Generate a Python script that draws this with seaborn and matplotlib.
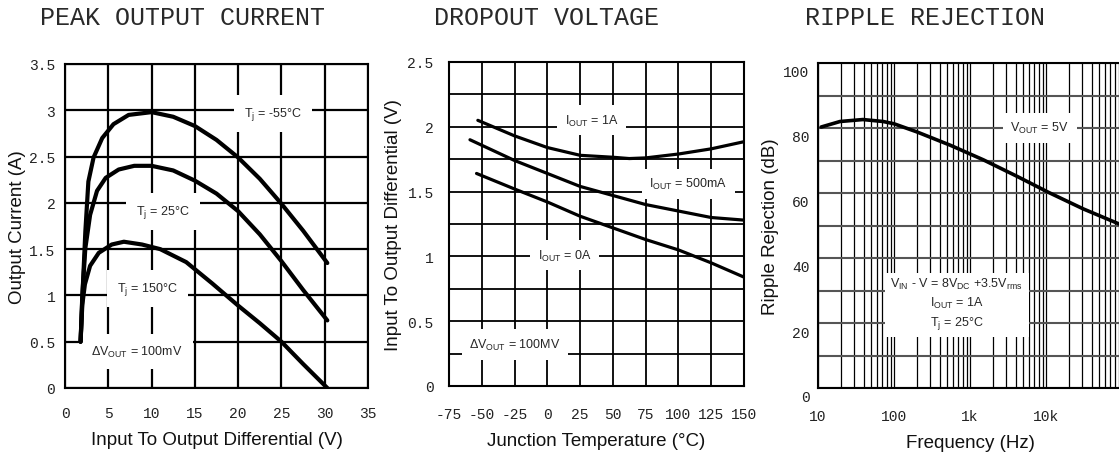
import numpy as np
import pandas as pd
import seaborn as sns
import matplotlib.pyplot as plt
from matplotlib import ticker
import matplotlib.transforms as mtransforms

# peak output current (A) vs input-output differential (V)
vin_m55 = [1.8, 2.0, 2.35, 2.7, 3.3, 4.3, 5.6, 7.35, 10, 12.5, 15, 17.5, 20, 22.5, 25, 27.5, 30.3]
iout_m55 = [0.5, 0.97, 1.69, 2.23, 2.49, 2.7, 2.85, 2.95, 2.98, 2.93, 2.83, 2.68, 2.49, 2.26, 1.99, 1.7, 1.35]
vin_25 = [1.8, 2.0, 2.35, 2.9, 3.7, 4.7, 6.2, 8, 10, 12.5, 15, 17.5, 20, 22.5, 25, 27.5, 30.3]
iout_25 = [0.5, 1.0, 1.51, 1.87, 2.13, 2.27, 2.36, 2.4, 2.4, 2.35, 2.24, 2.1, 1.91, 1.66, 1.37, 1.06, 0.73]
vin_150 = [1.8, 2.0, 2.3, 2.9, 3.9, 5.4, 6.8, 8.9, 11, 14, 17, 20, 22.5, 25, 27.5, 30.3]
iout_150 = [0.5, 0.9, 1.12, 1.32, 1.46, 1.55, 1.58, 1.55, 1.5, 1.36, 1.13, 0.89, 0.7, 0.5, 0.26, 0.0]

# dropout voltage (V) vs junction temperature (C)
temp_1a = [-53, -25, 0, 25, 50, 62.5, 75, 100, 125, 150]
drop_1a = [2.05, 1.93, 1.84, 1.78, 1.765, 1.755, 1.76, 1.79, 1.83, 1.885]
temp_500ma = [-59, -25, 0, 25, 50, 75, 100, 125, 150]
drop_500ma = [1.90, 1.74, 1.64, 1.54, 1.47, 1.40, 1.35, 1.30, 1.28]
temp_0a = [-54, -25, 0, 25, 50, 75, 100, 125, 150]
drop_0a = [1.64, 1.52, 1.42, 1.31, 1.22, 1.13, 1.05, 0.95, 0.84]

# ripple rejection (dB) vs frequency (Hz)
freq = [11, 19.5, 39, 72, 100, 200, 550, 1500, 4100, 11000, 31000, 91000]
rej_db = [80.3, 82.0, 82.6, 82.0, 81.3, 78.8, 74.7, 70.2, 65.2, 60.1, 55.1, 50.5]

x1_ticks = [0, 5, 10, 15, 20, 25, 30, 35]
y1_ticks = [0, 0.5, 1, 1.5, 2, 2.5, 3, 3.5]
x2_ticks = [-75, -50, -25, 0, 25, 50, 75, 100, 125, 150]
y2_ticks = [0, 0.5, 1, 1.5, 2, 2.5]
x3_ticks = [10, 100, 1000, 10000]
x3_labels = ['10', '100', '1k', '10k']
y3_ticks = [0, 20, 40, 60, 80, 100]

sns.set_style('white')
plt.rcParams['font.family'] = ['Liberation Sans', 'DejaVu Sans']
plt.rcParams['mathtext.fontset'] = 'custom'
plt.rcParams['mathtext.rm'] = 'Liberation Sans'
plt.rcParams['mathtext.it'] = 'Liberation Sans'
plt.rcParams['mathtext.default'] = 'regular'

fig = plt.figure(figsize=(11.19, 4.56), dpi=100)
W, H = 1119, 456


def make_ax(l, r, t, b):
    return fig.add_axes([l / W, 1 - b / H, (r - l) / W, (b - t) / H])


ax1 = make_ax(65, 368, 65, 389)
ax2 = make_ax(449, 744, 63, 387)
ax3 = make_ax(818, 1122, 64, 389)

mono = dict(family='Liberation Mono', size=10.5, color='#222222')
note = dict(fontsize=9, ha='center', va='center', zorder=3)
lab_kw = dict(fontsize=13.5, color='#111111')

# panel 1
for xs, ys in [(vin_m55, iout_m55), (vin_25, iout_25), (vin_150, iout_150)]:
    sns.lineplot(x=xs, y=ys, ax=ax1, color='black', lw=3, sort=False, zorder=4)
ax1.set_xlim(0, 35)
ax1.set_ylim(0, 3.5)
ax1.set_xticks(x1_ticks)
ax1.set_yticks(y1_ticks)
ax1.set_xticklabels([str(v) for v in x1_ticks], **mono)
ax1.set_yticklabels([f'{v:g}' for v in y1_ticks], **mono)
ax1.tick_params(length=0, axis='x', pad=13)
ax1.tick_params(length=0, axis='y', pad=7)
ax1.grid(True, color='black', lw=1.6)
ax1.set_xlabel('Input To Output Differential (V)', labelpad=8, **lab_kw)
ax1.set_ylabel('Output Current (A)', labelpad=2, **lab_kw)
box1 = dict(boxstyle='square,pad=0.8', fc='white', ec='none')
ax1.text(24, 2.96, 'T$_j$ = -55°C', bbox=box1, **note)
ax1.text(11.3, 1.91, 'T$_j$ = 25°C', bbox=box1, **note)
ax1.text(9.5, 1.08, 'T$_j$ = 150°C', bbox=box1, **note)
ax1.text(8.3, 0.39, 'ΔV$_{OUT}$ = 100mV', bbox=box1, **note)

# panel 2
for xs, ys in [(temp_1a, drop_1a), (temp_500ma, drop_500ma), (temp_0a, drop_0a)]:
    sns.lineplot(x=xs, y=ys, ax=ax2, color='black', lw=2.3, sort=False, zorder=4)
ax2.set_xlim(-75, 150)
ax2.set_ylim(0, 2.5)
ax2.set_xticks(x2_ticks)
ax2.set_yticks(y2_ticks)
ax2.yaxis.set_minor_locator(ticker.MultipleLocator(0.25))
ax2.set_xticklabels([str(v) for v in x2_ticks], **mono)
ax2.set_yticklabels([f'{v:g}' for v in y2_ticks], **mono)
ax2.tick_params(length=0, which='both', axis='x', pad=15)
ax2.tick_params(length=0, which='both', axis='y', pad=11)
ax2.grid(True, which='both', color='black', lw=1.3)
ax2.set_xlabel('Junction Temperature (°C)', labelpad=8, **lab_kw)
ax2.set_ylabel('Input To Output Differential (V)', labelpad=4, **lab_kw)
box2 = dict(boxstyle='square,pad=0.6', fc='white', ec='none')
ax2.text(33.8, 2.05, 'I$_{OUT}$ = 1A', bbox=box2, **note)
ax2.text(107.4, 1.56, 'I$_{OUT}$ = 500mA', bbox=box2, **note)
ax2.text(13.4, 1.01, 'I$_{OUT}$ = 0A', bbox=box2, **note)
ax2.text(-24.7, 0.32, 'ΔV$_{OUT}$ = 100MV', bbox=box2, **note)

# panel 3
sns.lineplot(x=freq, y=rej_db, ax=ax3, color='black', lw=2.6, sort=False, zorder=4)
ax3.set_xscale('log')
ax3.set_xlim(10, 1e5)
ax3.set_ylim(0, 100)
ax3.set_xticks(x3_ticks)
ax3.set_xticklabels(x3_labels, **mono)
ax3.xaxis.set_minor_locator(ticker.LogLocator(base=10, subs=np.arange(2, 10)))
ax3.xaxis.set_minor_formatter(ticker.NullFormatter())
ax3.set_yticks(y3_ticks)
ax3.yaxis.set_minor_locator(ticker.MultipleLocator(10))
ax3.set_yticklabels([str(v) for v in y3_ticks], **mono)
ax3.tick_params(length=0, which='both', axis='x', pad=15)
ax3.tick_params(length=0, which='both', axis='y', pad=6)
ax3.xaxis.grid(True, which='both', color='black', lw=0.9)
ax3.yaxis.grid(True, which='both', color='#555555', lw=1.5)
shift = mtransforms.ScaledTranslation(0, -8 / 100, fig.dpi_scale_trans)
for lab in ax3.get_yticklabels():
    lab.set_transform(lab.get_transform() + shift)
ax3.set_xlabel('Frequency (Hz)', labelpad=8, **lab_kw)
ax3.set_ylabel('Ripple Rejection (dB)', labelpad=3, **lab_kw)
box3 = dict(boxstyle='square,pad=0.6', fc='white', ec='none')
ax3.text(8300, 80.1, 'V$_{OUT}$ = 5V', bbox=box3, **note)
ax3.text(668, 25.9, 'V$_{IN}$ - V = 8V$_{DC}$ +3.5V$_{rms}$\nI$_{OUT}$ = 1A\nT$_j$ = 25°C',
         bbox=dict(boxstyle='square,pad=0.45', fc='white', ec='none'),
         multialignment='center', linespacing=1.35, **note)

for ax in (ax1, ax2, ax3):
    for s in ax.spines.values():
        s.set_color('black')
        s.set_linewidth(1.5)

title_kw = dict(family='Liberation Mono', fontsize=18, ha='center', va='center', color='#2a2a2a')
fig.text(182 / W, 1 - 18 / H, 'PEAK OUTPUT CURRENT', **title_kw)
fig.text(546 / W, 1 - 18 / H, 'DROPOUT VOLTAGE', **title_kw)
fig.text(925 / W, 1 - 18 / H, 'RIPPLE REJECTION', **title_kw)

fig.savefig('out.png', dpi=100)
